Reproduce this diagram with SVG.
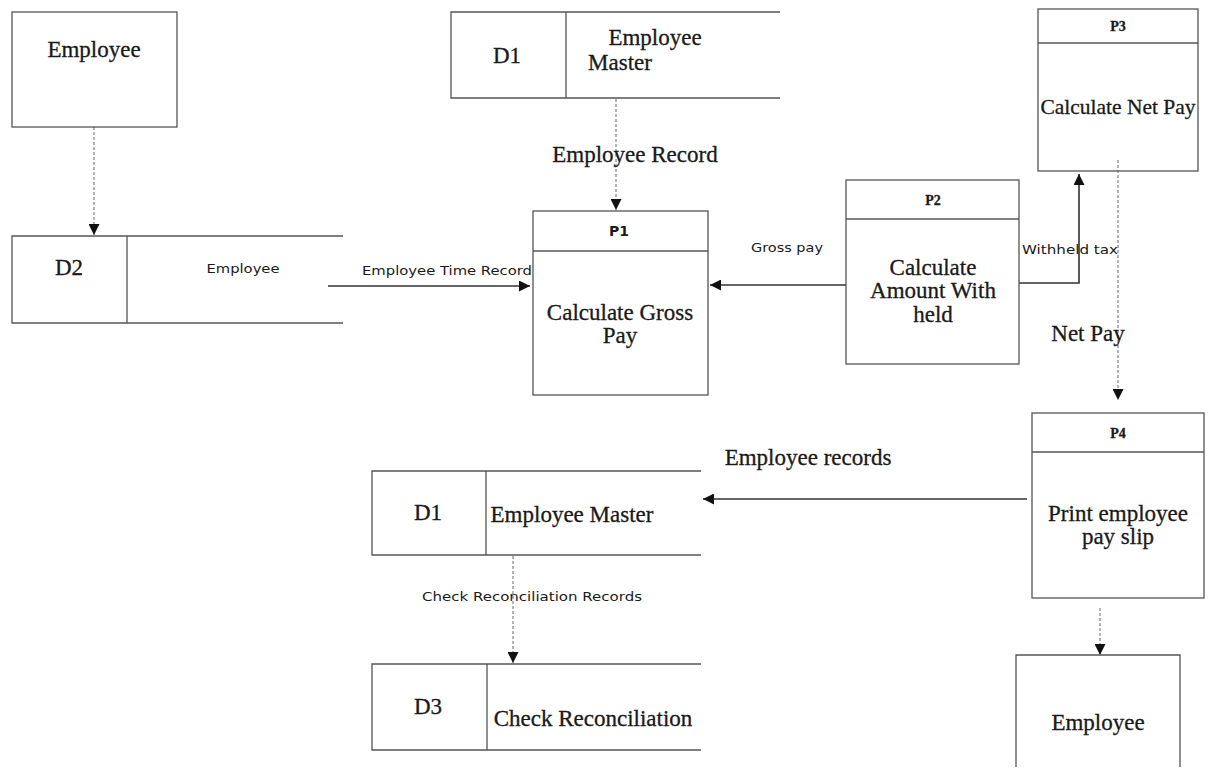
<svg xmlns="http://www.w3.org/2000/svg" width="1210" height="769" viewBox="0 0 1210 769">
<defs>
<marker id="ah" viewBox="0 0 10 10" refX="10" refY="5" markerWidth="11" markerHeight="11" markerUnits="userSpaceOnUse" orient="auto">
<path d="M0,0 L10,5 L0,10 z" fill="#111"/>
</marker>
</defs>
<style>
.box{fill:none;stroke:#555;stroke-width:1.3}
.dot{fill:none;stroke:#777;stroke-width:1.1;stroke-dasharray:3 2}
.sol{fill:none;stroke:#333;stroke-width:1.6}
.serif{font-family:"Liberation Serif","Times New Roman",serif;fill:#1a1a1a;stroke:#1a1a1a;stroke-width:0.3;text-anchor:middle}
.sans{font-family:"DejaVu Sans","Liberation Sans",sans-serif;fill:#1a1a1a;text-anchor:middle}
.big{font-size:23px}
.lbl{font-size:13px}
.pid{font-size:14px;font-weight:bold}
</style>
<rect width="1210" height="769" fill="#fff"/>

<g id="connectors">
<path class="dot" d="M94,127 V235" marker-end="url(#ah)"/>
<path class="sol" d="M328,286 H530" marker-end="url(#ah)"/>
<path class="dot" d="M616,99 V210" marker-end="url(#ah)"/>
<path class="sol" d="M846,285 H710" marker-end="url(#ah)"/>
<path class="sol" d="M1019,283 H1079 V174" marker-end="url(#ah)"/>
<path class="dot" d="M1118,160 V400" marker-end="url(#ah)"/>
<path class="sol" d="M1027,499 H703" marker-end="url(#ah)"/>
<path class="dot" d="M513,556 V663" marker-end="url(#ah)"/>
<path class="dot" d="M1100,608 V655" marker-end="url(#ah)"/>
<text class="sans lbl" x="447" y="275" textLength="170" lengthAdjust="spacingAndGlyphs">Employee Time Record</text>
<text class="serif big" x="635" y="162">Employee Record</text>
<text class="sans lbl" x="787" y="252" textLength="72" lengthAdjust="spacingAndGlyphs">Gross pay</text>
<text class="sans lbl" x="1070" y="254" textLength="96" lengthAdjust="spacingAndGlyphs">Withheld tax</text>
<text class="serif big" x="1088" y="341">Net Pay</text>
<text class="serif big" x="808" y="465">Employee records</text>
<text class="sans lbl" x="532" y="601" textLength="220" lengthAdjust="spacingAndGlyphs">Check Reconciliation Records</text>
</g>

<g id="employee-src">
<rect class="box" x="12" y="12" width="165" height="115"/>
<text class="serif big" x="94" y="57">Employee</text>
</g>

<g id="d2">
<path class="box" d="M343,236 H12 V323 H343 M127,236 V323"/>
<text class="serif big" x="69" y="275">D2</text>
<text class="sans lbl" x="243" y="273" textLength="73" lengthAdjust="spacingAndGlyphs">Employee</text>
</g>

<g id="d1-top">
<path class="box" d="M780,12 H451 V98 H780 M566,12 V98"/>
<text class="serif big" x="507" y="63">D1</text>
<text class="serif big" x="655" y="45">Employee</text>
<text class="serif big" x="620" y="70">Master</text>
</g>

<g id="p1">
<rect class="box" x="533" y="211" width="175" height="184"/>
<line class="box" x1="533" y1="251" x2="708" y2="251"/>
<text class="sans pid" x="619" y="236">P1</text>
<text class="serif big" x="620" y="320">Calculate Gross</text>
<text class="serif big" x="620" y="343">Pay</text>
</g>

<g id="p2">
<rect class="box" x="846" y="180" width="173" height="184"/>
<line class="box" x1="846" y1="219" x2="1019" y2="219"/>
<text class="serif pid" x="933" y="205">P2</text>
<text class="serif big" x="933" y="275">Calculate</text>
<text class="serif big" x="933" y="298">Amount With</text>
<text class="serif big" x="933" y="322">held</text>
</g>

<g id="p3">
<rect class="box" x="1038" y="9" width="160" height="162"/>
<line class="box" x1="1038" y1="43" x2="1198" y2="43"/>
<text class="serif pid" x="1118" y="31" font-size="12">P3</text>
<text class="serif" x="1118" y="114" font-size="21.5">Calculate Net Pay</text>
</g>

<g id="p4">
<rect class="box" x="1032" y="413" width="172" height="185"/>
<line class="box" x1="1032" y1="452" x2="1204" y2="452"/>
<text class="serif pid" x="1118" y="438" font-size="12">P4</text>
<text class="serif big" x="1118" y="521">Print employee</text>
<text class="serif big" x="1118" y="544">pay slip</text>
</g>

<g id="d1-bottom">
<path class="box" d="M701,471 H372 V555 H701 M486,471 V555"/>
<text class="serif big" x="428" y="520">D1</text>
<text class="serif big" x="572" y="522">Employee Master</text>
</g>

<g id="d3">
<path class="box" d="M701,664 H372 V750 H701 M487,664 V750"/>
<text class="serif big" x="428" y="714">D3</text>
<text class="serif big" x="593" y="726">Check Reconciliation</text>
</g>

<g id="employee-sink">
<path class="box" d="M1016,767 V655 H1180 V767"/>
<text class="serif big" x="1098" y="730">Employee</text>
</g>
</svg>
